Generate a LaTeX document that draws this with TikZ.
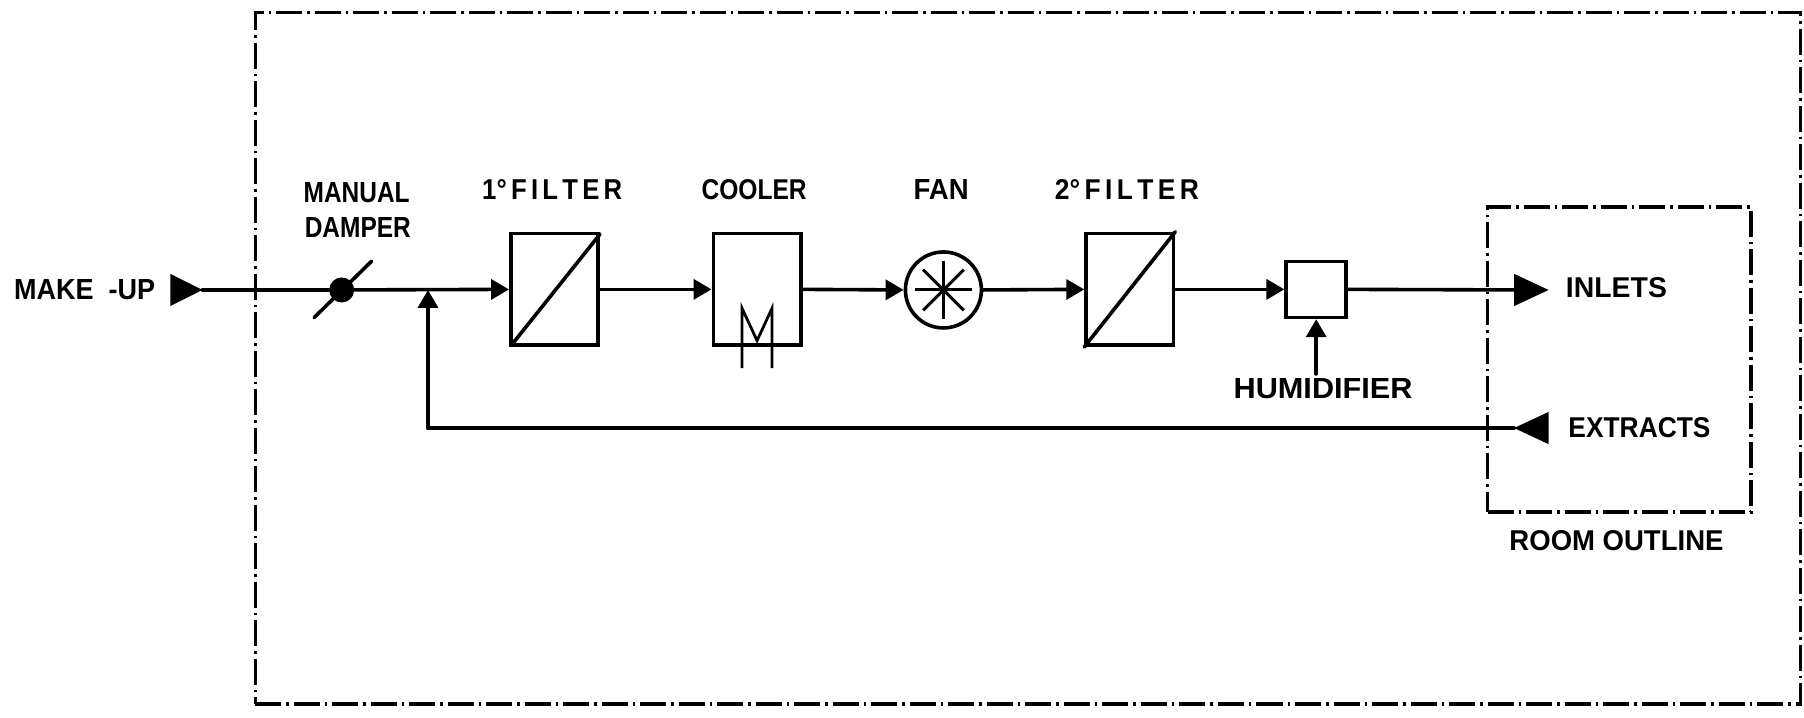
\documentclass[tikz,border=0pt]{standalone}
\usepackage{fontspec}
\setmainfont{Liberation Sans}[BoldFont={Liberation Sans Bold}]
\usetikzlibrary{arrows.meta,calc}
\newcommand{\lbl}[2]{\resizebox{#1}{20pt}{\bfseries #2}}
\tikzset{
  line/.style={line width=3.6pt,line cap=round,line join=miter},
  flow/.style={line,-{Triangle[length=18pt,width=20pt]}},
  bigflow/.style={line width=1pt,-{Triangle[length=34pt,width=33pt]}},
  outline/.style={line width=3.4pt,dash pattern=on 26pt off 5pt on 2.5pt off 5pt},
  unit/.style={draw,line width=3.6pt,rectangle,inner sep=0pt},
  filterbox/.style={unit,minimum width=87.4pt,minimum height=111.6pt},
  txt/.style={inner sep=0pt,outer sep=0pt}
}
\begin{document}
\begin{tikzpicture}[x=1.1505pt,y=-1.1506pt]
\useasboundingbox (0,0) rectangle (1568,624);
% outlines
\node[outline,draw,rectangle,minimum width=1545pt,minimum height=691.5pt,inner sep=0pt] (building) at (893.5,311.5) {};
\node[outline,draw,rectangle,minimum width=263.5pt,minimum height=305pt,inner sep=0pt] (room) at (1407.5,312.5) {};
% equipment
\coordinate (mstart) at (148,252);
\coordinate (mtip) at (176,252);
\node[circle,fill=black,minimum size=25pt,inner sep=0pt] (damper) at (297,252) {};
\coordinate (blade1) at (273,276);
\coordinate (blade2) at (323,227);
\coordinate (junction) at (372,252);
\node[filterbox] (filter1) at (482,251.5) {};
\node[filterbox] (cooler) at (658,251.5) {};
\node[unit,circle,minimum size=76pt] (fan) at (820,252) {};
\node[filterbox] (filter2) at (982,251.5) {};
\node[unit,minimum width=60pt,minimum height=56pt] (humid) at (1144,251.5) {};
\coordinate (hsrc) at (1144,325);
\coordinate (inlet) at (1346,252);
\coordinate (extract) at (1346,372);
\coordinate (extip) at (1316,372);
\coordinate (corner) at (372,372);
% connectors
\fill (mstart) ++(0,-14) -- (mtip) -- ($(mstart)+(0,14)$) -- cycle;
\draw[line] (mtip) -- (damper);
\draw[line] (blade1) -- (blade2);
\draw[flow] (damper) -- (filter1.west);
\draw[flow] (filter1.east) -- (cooler.west);
\draw[flow] (cooler.east) -- (fan.west);
\draw[flow] (fan.east) -- (filter2.west);
\draw[flow] (filter2.east) -- (humid.west);
\draw[line] (humid.east) -- (1320,252);
\fill (1316,238) -- (inlet) -- (1316,266) -- cycle;
\draw[flow] (hsrc) -- (humid.south);
\fill (extract) ++(0,-14) -- (extip) -- ($(extract)+(0,14)$) -- cycle;
\draw[line] (extip) -- (corner);
\draw[flow] (corner) -- (junction);
% filter diagonals
\draw[line] ($(filter1.south west)+(4,-4)$) -- ($(filter1.north east)+(0,2)$);
\draw[line] (filter2.south west) -- (filter2.north east);
% cooler coil
\coordinate (c1) at (645,320);
\coordinate (c2) at (671,320);
\draw[line width=2.8pt,line join=miter] (c1) -- (645,268) -- (658,296) -- (671,268) -- (c2);
% fan spokes
\foreach \a in {0,45,90,135}
  \draw[line width=3pt] ($(fan)+(\a:25)$) -- ($(fan)+(\a+180:25)$);
% labels
\node[txt] (lmakeup) at (73.5,252) {\lbl{141pt}{MAKE\ \ -UP}};
\node[txt] (lmanual) at (310,167) {\lbl{106pt}{MANUAL}};
\node[txt] (ldamper) at (311,198) {\lbl{106pt}{DAMPER}};
\node[txt] (lf1) at (480,165) {\lbl{140pt}{1°\,F\,I\,L\,T\,E\,R}};
\node[txt] (lcooler) at (655.5,165) {\lbl{105pt}{COOLER}};
\node[txt] (lfan) at (818,165) {\lbl{55pt}{FAN}};
\node[txt] (lf2) at (979.5,165) {\lbl{144pt}{2°\,F\,I\,L\,T\,E\,R}};
\node[txt] (lhum) at (1150,338) {\lbl{179pt}{HUMIDIFIER}};
\node[txt] (linl) at (1405,250) {\lbl{101pt}{INLETS}};
\node[txt] (lext) at (1425,372) {\lbl{142pt}{EXTRACTS}};
\node[txt] (lroom) at (1405,470) {\lbl{214pt}{ROOM\ OUTLINE}};
\end{tikzpicture}
\end{document}
